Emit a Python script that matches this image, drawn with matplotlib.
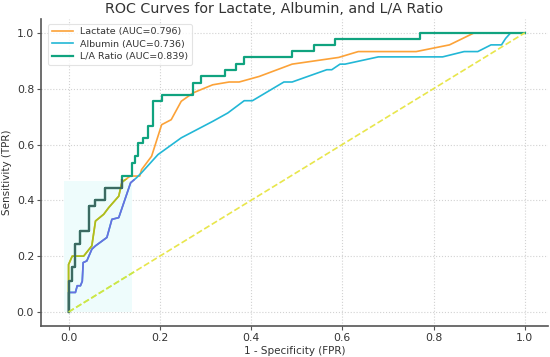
import matplotlib
matplotlib.use("Agg")
import matplotlib.pyplot as plt
from matplotlib.patches import Rectangle

# region data
lac_fpr = [0.0, 0.0, 0.008, 0.033, 0.051, 0.059, 0.077, 0.088, 0.11, 0.117, 0.135, 0.156, 0.16,
           0.182, 0.204, 0.225, 0.247, 0.273, 0.295, 0.316, 0.352, 0.374, 0.418, 0.49, 0.592,
           0.635, 0.762, 0.835, 0.889, 1.0]
lac_tpr = [0.0, 0.17, 0.2, 0.2, 0.237, 0.326, 0.35, 0.374, 0.415, 0.465, 0.487, 0.487, 0.51,
           0.558, 0.671, 0.689, 0.755, 0.785, 0.8, 0.814, 0.824, 0.824, 0.844, 0.888, 0.912,
           0.933, 0.933, 0.957, 1.0, 1.0]

alb_fpr = [0.0, 0.0, 0.015, 0.019, 0.026, 0.03, 0.032, 0.04, 0.051, 0.059, 0.084, 0.095, 0.11,
           0.136, 0.149, 0.16, 0.196, 0.247, 0.316, 0.349, 0.385, 0.403, 0.472, 0.49, 0.566,
           0.577, 0.595, 0.606, 0.679, 0.82, 0.867, 0.897, 0.926, 0.949, 0.958, 0.969, 1.0]
alb_tpr = [0.0, 0.07, 0.07, 0.094, 0.094, 0.11, 0.177, 0.183, 0.225, 0.237, 0.267, 0.332, 0.338,
           0.463, 0.481, 0.499, 0.564, 0.624, 0.683, 0.713, 0.757, 0.757, 0.824, 0.824, 0.868,
           0.868, 0.888, 0.888, 0.914, 0.914, 0.933, 0.933, 0.957, 0.957, 0.98, 1.0, 1.0]

# L/A ratio is a step curve: corners listed in order
la_fpr = [0.0, 0.0, 0.007, 0.007, 0.014, 0.014, 0.024, 0.024, 0.044, 0.044, 0.059, 0.059, 0.08,
          0.08, 0.106, 0.117, 0.117, 0.138, 0.138, 0.146, 0.146, 0.153, 0.153, 0.164, 0.164,
          0.175, 0.175, 0.186, 0.186, 0.204, 0.204, 0.273, 0.273, 0.291, 0.291, 0.342, 0.342,
          0.367, 0.367, 0.385, 0.385, 0.49, 0.49, 0.537, 0.537, 0.585, 0.585, 0.771, 0.771, 1.0]
la_tpr = [0.0, 0.11, 0.11, 0.16, 0.16, 0.243, 0.243, 0.29, 0.29, 0.38, 0.38, 0.40, 0.40,
          0.445, 0.445, 0.445, 0.487, 0.487, 0.535, 0.535, 0.558, 0.558, 0.606, 0.606, 0.624,
          0.624, 0.665, 0.665, 0.755, 0.755, 0.779, 0.779, 0.822, 0.822, 0.844, 0.844, 0.868,
          0.868, 0.888, 0.888, 0.912, 0.912, 0.936, 0.936, 0.955, 0.955, 0.979, 0.979, 1.0, 1.0]

labels = ["Lactate (AUC=0.796)", "Albumin (AUC=0.736)", "L/A Ratio (AUC=0.839)"]
# endregion

c_lac = "#fca238"
c_alb = "#22b7d6"
c_la = "#10a37f"
c_diag = "#e8e64c"

fig = plt.figure(figsize=(5.5, 3.57), dpi=100)
ax = fig.add_axes([0.0745, 0.087, 0.9215, 0.86])

ax.plot(lac_fpr, lac_tpr, color=c_lac, lw=1.2, label=labels[0])
ax.plot(alb_fpr, alb_tpr, color=c_alb, lw=1.2, label=labels[1])
ax.plot(la_fpr, la_tpr, color=c_la, lw=1.6, label=labels[2])
ax.plot([0, 1], [0, 1], color=c_diag, lw=1.2, ls="--")

# faint tinted corner in the lower left, curves shown in other colours there
tint = Rectangle((-0.01, 0.0), 0.15, 0.47, facecolor="#eefcfc", edgecolor="none", zorder=1.5)
ax.add_patch(tint)
clip = Rectangle((-0.03, -0.03), 0.175, 0.505, transform=ax.transData)
for xs, ys, col, w in [(lac_fpr, lac_tpr, "#a6c21e", 1.2), (alb_fpr, alb_tpr, "#6b6ee0", 1.2),
                       (la_fpr, la_tpr, "#3c6a62", 1.6)]:
    ln, = ax.plot(xs, ys, color=col, lw=w, zorder=2.5)
    ln.set_clip_path(clip)
dl, = ax.plot([0, 1], [0, 1], color="#c8e84a", lw=1.2, ls="--", zorder=2.5)
dl.set_clip_path(clip)

ax.set_title("ROC Curves for Lactate, Albumin, and L/A Ratio", fontsize=10.3, color="#333333",
             x=0.46, pad=4)
ax.set_xlabel("1 - Specificity (FPR)", fontsize=7.5, color="#333333", labelpad=2)
ax.set_ylabel("Sensitivity (TPR)", fontsize=7.5, color="#333333", labelpad=3)
ax.tick_params(labelsize=7.8, colors="#555555", labelcolor="#333333", length=3, width=0.8, pad=2)
ax.set_xticks([0, 0.2, 0.4, 0.6, 0.8, 1.0])
ax.set_yticks([0, 0.2, 0.4, 0.6, 0.8, 1.0])
ax.grid(True, ls=":", color="#d2d2d2", lw=0.8)
ax.set_axisbelow(True)
for s in ["top", "right"]:
    ax.spines[s].set_visible(False)
for s in ["left", "bottom"]:
    ax.spines[s].set_color("#555555")
    ax.spines[s].set_linewidth(1.2)

leg = ax.legend(loc="upper left", fontsize=6.8, frameon=True, borderpad=0.4,
                handlelength=2.2, labelspacing=0.35, bbox_to_anchor=(0.005, 1.0))
leg.get_frame().set_edgecolor("#dddddd")
leg.get_frame().set_linewidth(0.8)
for t in leg.get_texts():
    t.set_color("#333333")

fig.savefig("out.png", dpi=100)
